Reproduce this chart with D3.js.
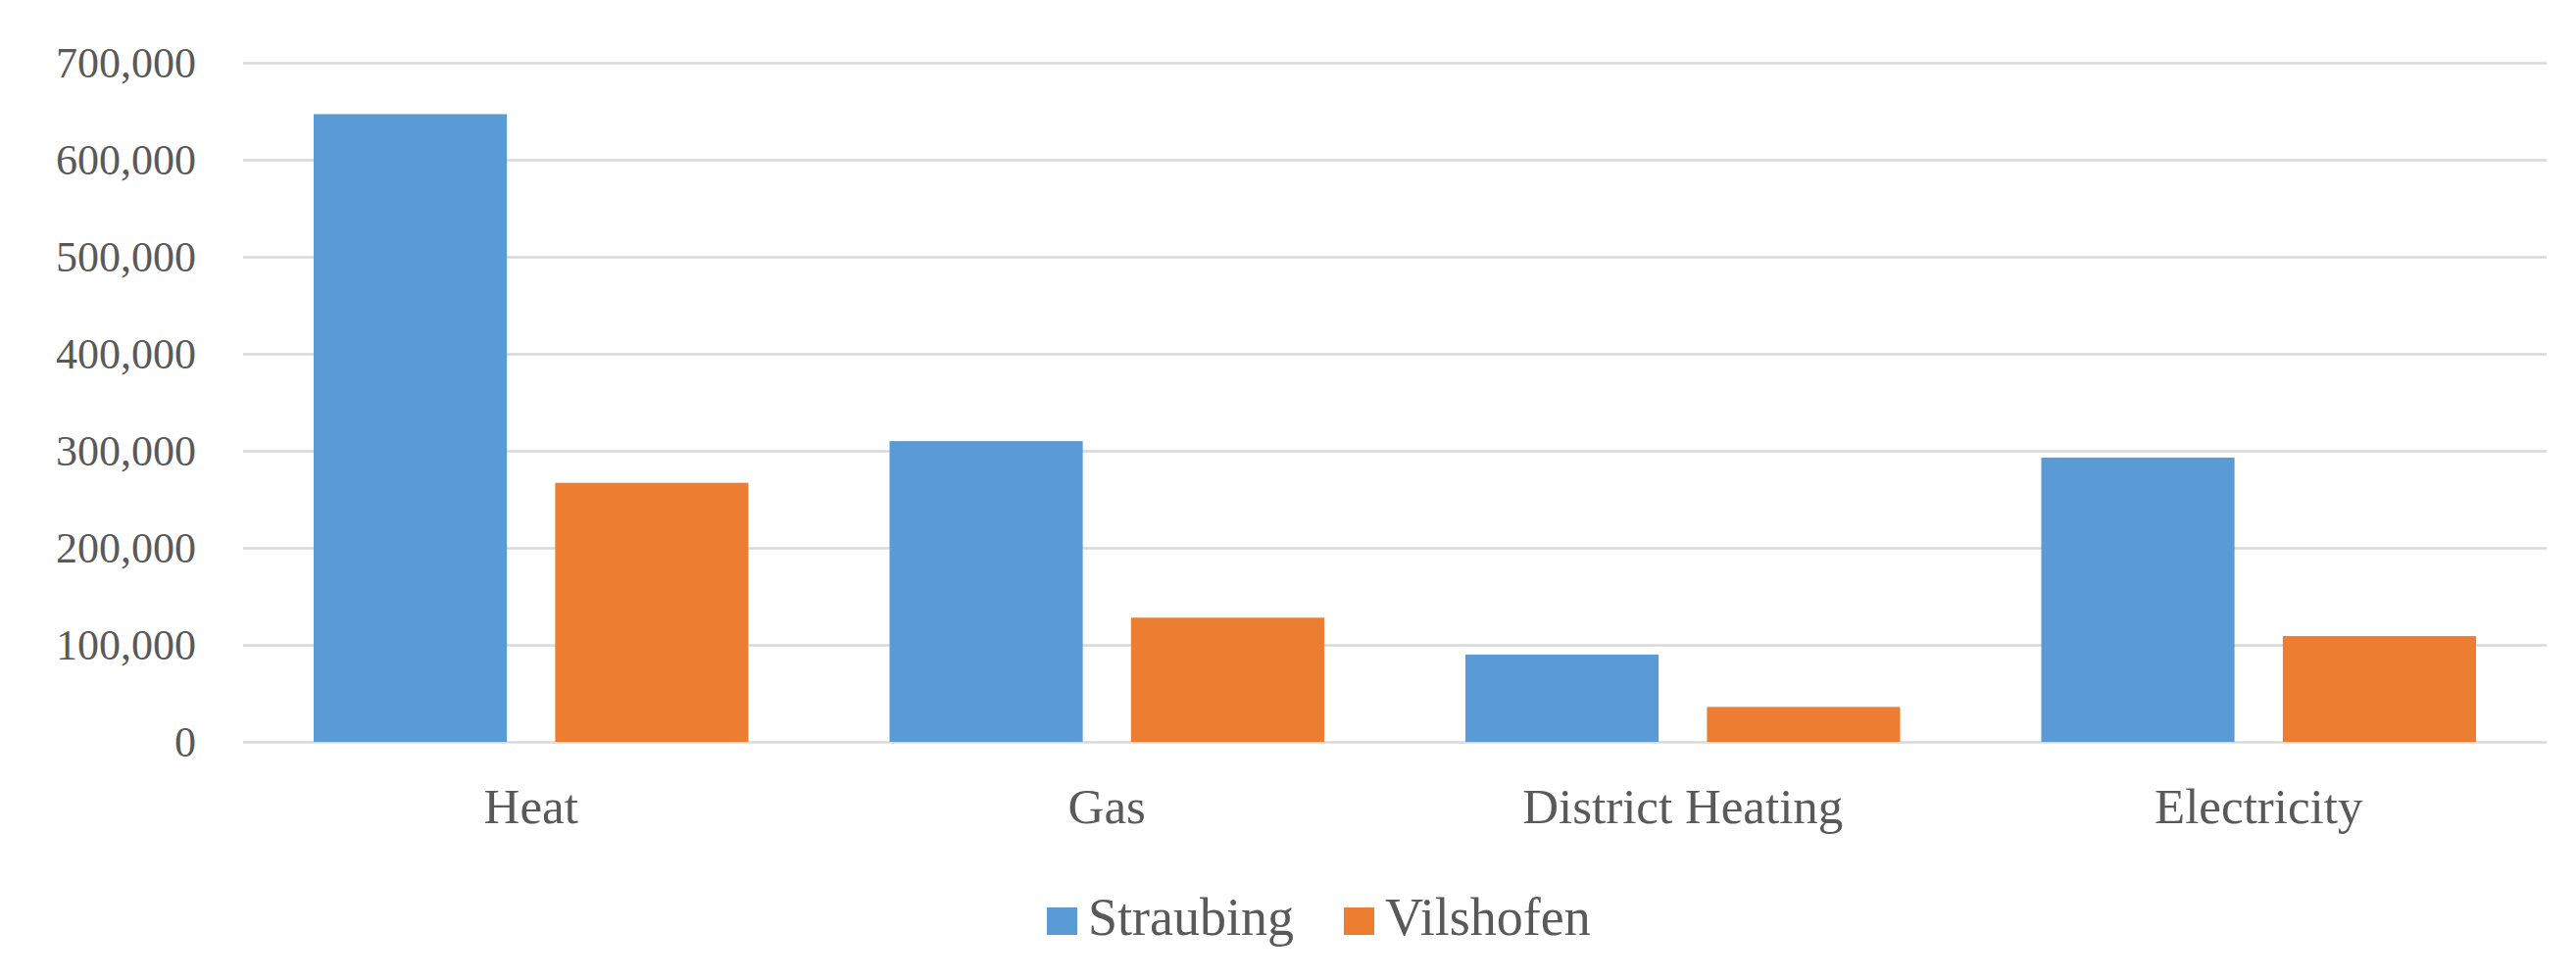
<!DOCTYPE html>
<html>
<head>
<meta charset="utf-8">
<script src="https://cdn.jsdelivr.net/npm/d3@7"></script>
<style>
  body { margin: 0; background: #ffffff; }
</style>
</head>
<body>
<div id="chart"></div>
<script>
// Data
var categories = ["Heat", "Gas", "District Heating", "Electricity"];
var seriesNames = ["Straubing", "Vilshofen"];
var straubing = [647000, 310000, 90000, 293000];
var vilshofen = [267000, 128000, 36000, 109000];
var yTicks = [0, 100000, 200000, 300000, 400000, 500000, 600000, 700000];

var colors = { "Straubing": "#5B9BD5", "Vilshofen": "#ED7D31" };

// SVG Dimensions
var svgWidth = 2628;
var svgHeight = 999;

var margin = { top: 64, right: 30, bottom: 242, left: 248 };

var width = svgWidth - margin.left - margin.right;
var height = svgHeight - margin.top - margin.bottom;

var svg = d3.select("#chart")
  .append("svg")
  .attr("width", svgWidth)
  .attr("height", svgHeight);

var chartGroup = svg.append("g")
  .attr("transform", `translate(${margin.left}, ${margin.top})`);

// build rows for grouping
var rows = categories.map(function (c, i) {
  return { category: c, values: [straubing[i], vilshofen[i]] };
});

// Scales
var x0 = d3.scaleBand()
  .domain(categories)
  .range([0, width]);

var x1 = d3.scaleBand()
  .domain(seriesNames)
  .range([72, x0.bandwidth() - 72])
  .paddingInner(0.2);

var y = d3.scaleLinear()
  .domain([0, 700000])
  .range([height, 0]);

var fontFam = "'Liberation Serif', 'DejaVu Serif', serif";

// Gridlines + y labels
var leftAxis = d3.axisLeft(y)
  .tickValues(yTicks)
  .tickSize(-width)
  .tickPadding(48)
  .tickFormat(d3.format(","));

var yAxisG = chartGroup.append("g").call(leftAxis);
yAxisG.select(".domain").remove();
yAxisG.selectAll(".tick line")
  .attr("stroke", "#d9d9d9")
  .attr("stroke-width", 2.5);
yAxisG.selectAll(".tick text")
  .attr("fill", "#595959")
  .style("font-family", fontFam)
  .style("font-size", "44px");

// Bars
var groups = chartGroup.selectAll(".cat")
  .data(rows)
  .enter()
  .append("g")
  .attr("class", "cat")
  .attr("transform", d => `translate(${x0(d.category)}, 0)`);

groups.selectAll("rect")
  .data(d => d.values.map(function (v, j) { return { name: seriesNames[j], value: v }; }))
  .enter()
  .append("rect")
  .attr("x", d => x1(d.name))
  .attr("y", d => y(d.value))
  .attr("width", x1.bandwidth())
  .attr("height", d => height - y(d.value))
  .attr("fill", d => colors[d.name]);

// X labels
var bottomAxis = d3.axisBottom(x0).tickSize(0).tickPadding(47);
var xAxisG = chartGroup.append("g")
  .attr("transform", `translate(0, ${height})`)
  .call(bottomAxis);
xAxisG.select(".domain").remove();
xAxisG.selectAll(".tick text")
  .attr("fill", "#595959")
  .style("font-family", fontFam)
  .style("font-size", "51px");

// Legend
var legend = svg.append("g")
  .attr("transform", "translate(1068, 940)");

var legendItems = legend.selectAll(".legend-item")
  .data(seriesNames)
  .enter()
  .append("g")
  .attr("class", "legend-item")
  .attr("transform", (d, i) => `translate(${i * 303}, 0)`);

legendItems.append("rect")
  .attr("x", 0)
  .attr("y", -14)
  .attr("width", 31)
  .attr("height", 28)
  .attr("fill", d => colors[d]);

legendItems.append("text")
  .attr("x", 42)
  .attr("y", -5)
  .attr("dy", "0.35em")
  .text(d => d)
  .attr("fill", "#595959")
  .style("font-family", fontFam)
  .style("font-size", "54px");
</script>
</body>
</html>
